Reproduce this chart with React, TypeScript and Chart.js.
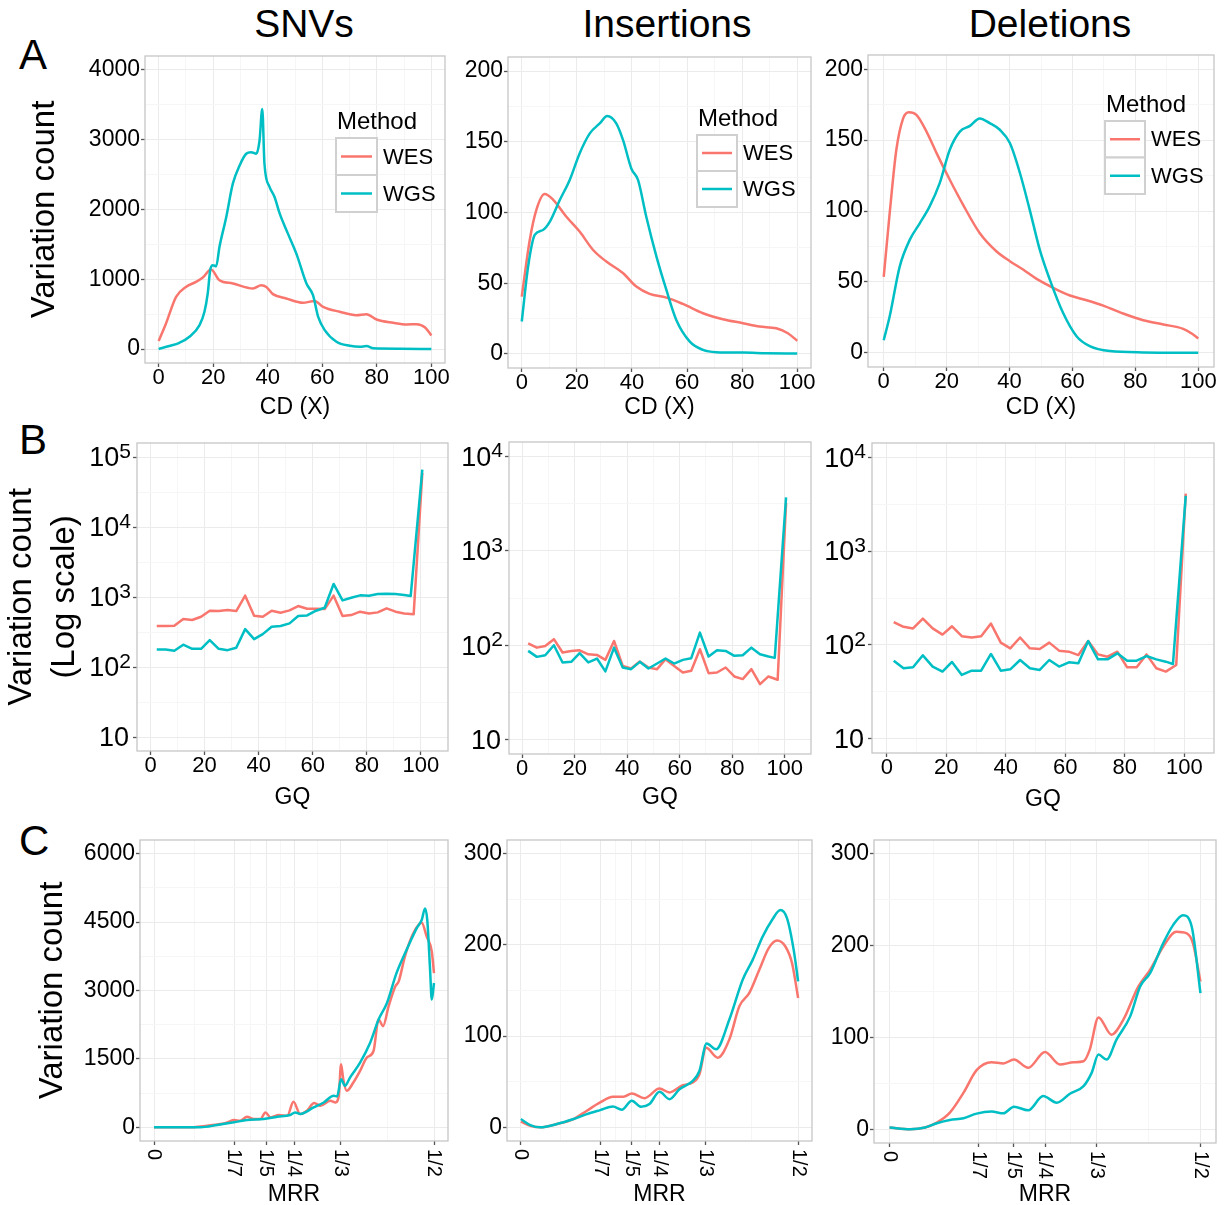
import React, { useEffect, useRef } from 'react';
import { Chart, registerables } from 'chart.js';

Chart.register(...registerables);

const FONT = '"Liberation Sans", Arial, Helvetica, sans-serif';
const WES_COLOR = '#F8766D';
const WGS_COLOR = '#00BFC4';
const MAJOR_GRID = '#ebebeb';
const MINOR_GRID = '#f6f6f6';
const TICK_COLOR = '#555555';
const BORDER_COLOR = '#c6c6c6';

const METHOD_TITLE = 'Method';
const METHODS = ['WES', 'WGS'];
const COLUMN_TITLES = ['SNVs', 'Insertions', 'Deletions'];
const ROW_LETTERS = ['A', 'B', 'C'];

// ---------- Row A: coverage depth (CD) ----------
const snvCdWesX = [0, 2.7, 6.4, 10, 13.7, 16.2, 19.2, 22.3, 27.2, 34.6, 37.6, 39.5, 41.9, 46.8, 52.9, 57.2, 60.3, 66.4, 72.5, 76.2, 79.9, 86, 91, 94.6, 97.7, 100];
const snvCdWesY = [114, 367, 748, 890, 963, 1025, 1140, 987, 940, 868, 915, 890, 787, 725, 663, 690, 605, 534, 486, 500, 424, 377, 353, 357, 310, 195];
const snvCdWgsX = [0, 3.9, 7.6, 11.3, 15, 16.8, 18, 18.9, 19.9, 21.1, 22.3, 24.8, 27.2, 29.7, 32.1, 33.9, 35.8, 37, 38, 38.8, 40.7, 42.5, 44.4, 47.4, 50.5, 54.2, 56.6, 58.5, 60.9, 65.2, 70.1, 73.8, 76.2, 78.7, 88.5, 100];
const snvCdWgsY = [0, 43, 90, 176, 343, 534, 796, 1130, 1201, 1187, 1464, 1893, 2370, 2632, 2799, 2822, 2799, 2989, 3442, 2656, 2322, 2179, 1940, 1654, 1368, 939, 772, 462, 272, 105, 48, 33, 43, 10, 5, 0];

const insCdWesX = [0, 2.9, 5.3, 8.3, 11.4, 16.2, 21, 25.9, 30.7, 36.8, 41.6, 46.4, 52.5, 58.5, 65.8, 73, 80.3, 86.3, 92.4, 96.6, 100];
const insCdWesY = [40.5, 80.6, 101.8, 113, 109, 97, 86.5, 73.5, 65.3, 57, 47.6, 42.4, 39.8, 35.3, 28.7, 24.5, 21.7, 19.3, 18.1, 14.6, 9.2];
const insCdWgsX = [0, 2.3, 4.7, 7.7, 10.2, 13.8, 17.4, 21, 24.7, 28.3, 31, 34.3, 36.8, 39.8, 42.2, 45.2, 48.9, 52.5, 56.1, 61, 65.8, 70.6, 80.3, 88.8, 100];
const insCdWgsY = [22.9, 61.7, 84.1, 87.6, 93.5, 108.8, 123, 141.8, 156, 163, 168.2, 163, 151, 131, 123, 97, 68.8, 45.2, 24, 8.7, 2.8, 1.2, 0.9, 0.5, 0.2];

const delCdWesX = [0, 1.9, 4, 6.2, 8, 10.4, 13.6, 16.8, 21, 25.2, 30.5, 35.8, 40.1, 44.3, 48.6, 53.9, 59.2, 64.5, 69.8, 76.1, 82.5, 88.9, 95.2, 97.9, 100];
const delCdWesY = [53.5, 98.6, 143, 165.5, 169.7, 167.8, 156, 140.8, 122, 104.5, 84.5, 71.6, 64.6, 58.7, 52.1, 45.8, 40.4, 37.1, 33.3, 27.7, 23, 20, 16.9, 13.6, 10.1];
const delCdWgsX = [0, 1.9, 5.1, 8.3, 11.5, 14.6, 17.8, 21, 24.2, 27.4, 30.5, 33.7, 36.9, 40.1, 43.3, 46.4, 49.6, 52.8, 57, 61.3, 65.5, 71.9, 82.5, 100];
const delCdWgsY = [8.9, 25.8, 61, 79.8, 91.5, 103.3, 119.7, 143.2, 156, 160, 165.3, 162, 157.3, 147.9, 126.8, 101, 72.8, 51.6, 28.2, 11.7, 4.7, 1.2, 0.3, 0.1];

// ---------- Row B: genotype quality (GQ), log scale ----------
const gqBins = [2.3, 5.6, 8.8, 12.1, 15.4, 18.7, 21.9, 25.2, 28.5, 31.7, 35, 38.3, 41.5, 44.8, 48.1, 51.4, 54.6, 57.9, 61.2, 64.4, 67.7, 71, 74.2, 77.5, 80.8, 84, 87.3, 90.6, 93.8, 96.2, 97.3, 100.5];
const snvGqWes = [385, 385, 388, 484, 469, 523, 637, 630, 652, 630, 1045, 541, 523, 637, 597, 644, 743, 681, 681, 672, 1045, 535, 552, 617, 583, 603, 689, 617, 583, null, 565, 59000];
const snvGqWgs = [178, 178, 171, 208, 182, 182, 242, 182, 174, 188, 348, 250, 295, 376, 385, 420, 535, 546, 637, 703, 1535, 895, 977, 1056, 1045, 1104, 1117, 1104, 1069, 1033, null, 65900];
const insGqWes = [105, 94.4, 98.4, 116, 83.8, 87.2, 88.5, 80.3, 79.1, 70.1, 111, 60.5, 56.8, 67.3, 58.2, 55.9, 71.3, 60.5, 51.5, 53.7, 90.8, 50.7, 51.5, 58.2, 46.8, 43.9, 55.9, 38.8, 46.8, null, 43.2, 3200];
const insGqWgs = [87.2, 75.4, 78.5, 100, 65.8, 66.8, 82.4, 65.8, 72.4, 52.9, 94.4, 58.2, 55.9, 66.8, 56.8, 64.1, 72.4, 64.1, 70.1, 73, 136, 76, 88.5, 87.2, 77.3, 78.5, 94.4, 80.3, 76, 73.6, null, 3670];
const delGqWes = [175, 156, 150, 191, 150, 129, 158, 124, 120, 124, 169, 106, 92, 120, 92, 90.6, 106, 87, 84.8, 78.1, 110, 79.4, 75, 84.8, 57.8, 57.8, 79.4, 56.5, 52.1, null, 61.2, 4090];
const delGqWgs = [68.1, 56.5, 57.8, 77.6, 58.9, 52.1, 65.9, 48, 53.3, 53.3, 80.2, 53.3, 55.1, 69.2, 56.5, 54.2, 69.2, 58.9, 65.3, 63.8, 110, 70.3, 70.3, 81.5, 68.1, 68.1, 76.2, 70.3, 66.4, 62.8, null, 3860];

// ---------- Row C: minor read ratio (MRR) ----------
const snvMrrWesX = [0, 0.059, 0.095, 0.119, 0.131, 0.143, 0.154, 0.166, 0.178, 0.19, 0.199, 0.208, 0.223, 0.238, 0.249, 0.261, 0.273, 0.286, 0.297, 0.315, 0.324, 0.33, 0.334, 0.338, 0.344, 0.356, 0.368, 0.38, 0.392, 0.401, 0.409, 0.419, 0.431, 0.437, 0.448, 0.463, 0.478, 0.487, 0.496, 0.5];
const snvMrrWesY = [0, 0, 36, 73, 109, 160, 145, 233, 182, 182, 327, 218, 269, 255, 560, 291, 364, 531, 473, 582, 545, 691, 1382, 1055, 800, 982, 1236, 1527, 1673, 2364, 2218, 2655, 3091, 3200, 3745, 4255, 4487, 4182, 3855, 3382];
const snvMrrWgsX = [0, 0.083, 0.113, 0.143, 0.166, 0.196, 0.22, 0.243, 0.252, 0.261, 0.285, 0.303, 0.321, 0.327, 0.334, 0.341, 0.35, 0.368, 0.386, 0.401, 0.416, 0.433, 0.451, 0.469, 0.478, 0.484, 0.488, 0.493, 0.496, 0.5];
const snvMrrWgsY = [0, 0, 51, 109, 160, 182, 233, 269, 327, 291, 436, 545, 691, 676, 1055, 909, 1091, 1418, 1855, 2364, 2727, 3382, 3891, 4364, 4545, 4800, 4545, 3455, 2800, 3164];

const insMrrWesX = [0, 0.017, 0.035, 0.065, 0.095, 0.119, 0.143, 0.166, 0.185, 0.2, 0.223, 0.25, 0.268, 0.292, 0.31, 0.322, 0.334, 0.355, 0.376, 0.394, 0.412, 0.43, 0.447, 0.462, 0.477, 0.489, 0.5];
const insMrrWesY = [6.2, 1.8, 0, 3.6, 9.1, 18.2, 27.3, 33.5, 33.5, 37.1, 32, 42.5, 38.2, 46.2, 49.1, 58.2, 87.3, 76.4, 96.4, 132.7, 147.3, 172.7, 196.4, 204.7, 198.2, 180, 141.8];
const insMrrWgsX = [0, 0.017, 0.035, 0.065, 0.095, 0.119, 0.143, 0.166, 0.182, 0.2, 0.217, 0.232, 0.25, 0.268, 0.286, 0.31, 0.322, 0.335, 0.352, 0.376, 0.4, 0.418, 0.436, 0.453, 0.468, 0.48, 0.492, 0.5];
const insMrrWgsY = [9.1, 2.5, 0, 3.6, 9.1, 14.5, 18.9, 22.9, 19.3, 29.1, 22.5, 25.5, 38.9, 30.9, 41.8, 50.9, 61.8, 92, 85.5, 118.2, 161.8, 183.6, 209.1, 227.3, 238.2, 229.1, 194.5, 160];

const delMrrWesX = [0, 0.033, 0.057, 0.076, 0.097, 0.119, 0.14, 0.164, 0.183, 0.2, 0.223, 0.25, 0.274, 0.296, 0.312, 0.322, 0.336, 0.357, 0.376, 0.4, 0.419, 0.44, 0.461, 0.478, 0.488, 0.5];
const delMrrWesY = [1.8, 0, 1.8, 7.2, 18.1, 39.8, 64.3, 73, 71.6, 75.9, 66.9, 84.2, 70.5, 73, 74.1, 86.7, 121.8, 103, 119.3, 155.4, 173.5, 198.8, 215, 213.2, 202.4, 160.8];
const delMrrWgsX = [0, 0.033, 0.057, 0.076, 0.097, 0.119, 0.14, 0.164, 0.183, 0.2, 0.223, 0.247, 0.269, 0.29, 0.312, 0.325, 0.336, 0.349, 0.365, 0.387, 0.403, 0.419, 0.44, 0.456, 0.472, 0.486, 0.5];
const delMrrWgsY = [1.8, 0, 1.8, 6.5, 10.1, 11.9, 17, 19.2, 17.3, 24.6, 20.6, 36.1, 28.9, 38.7, 47, 61.4, 81.3, 75.9, 97.6, 122.9, 155.4, 169.9, 202.4, 222.3, 233.1, 220.5, 148.2];

// ---------- Ticks ----------
const pctTicks = [0, 20, 40, 60, 80, 100];
const pctTickLabels = ['0', '20', '40', '60', '80', '100'];
const snvCdTicks = [0, 1000, 2000, 3000, 4000];
const snvCdTickLabels = ['0', '1000', '2000', '3000', '4000'];
const indelCdTicks = [0, 50, 100, 150, 200];
const indelCdTickLabels = ['0', '50', '100', '150', '200'];
const snvLogTicks = [10, 100, 1000, 10000, 100000];
const snvLogTickBases = ['10', '10', '10', '10', '10'];
const snvLogTickExponents = ['', '2', '3', '4', '5'];
const indelLogTicks = [10, 100, 1000, 10000];
const indelLogTickBases = ['10', '10', '10', '10'];
const indelLogTickExponents = ['', '2', '3', '4'];
const mrrTicks = [0, 1 / 7, 1 / 5, 1 / 4, 1 / 3, 1 / 2];
const mrrTickLabels = ['0', '1/7', '1/5', '1/4', '1/3', '1/2'];
const snvMrrTicks = [0, 1500, 3000, 4500, 6000];
const snvMrrTickLabels = ['0', '1500', '3000', '4500', '6000'];
const indelMrrTicks = [0, 100, 200, 300];
const indelMrrTickLabels = ['0', '100', '200', '300'];

// minor grid breaks: midpoints between major breaks (linear space, or log space for log axes)
const mids = (a: number[]) => a.slice(1).map((v, i) => (v + a[i]) / 2);
const logMids = (a: number[]) => a.slice(1).map((v, i) => Math.sqrt(v * a[i]));

// ---------- Layout (page pixels) ----------
type Axis = {
  type: string; min: number; max: number; major: number[]; labels: string[]; minor: number[];
  rotated?: boolean; exponents?: string[];
};
type Series = { label: string; color: string; x: number[]; y: (number | null)[] };
type Legend = { titleDx: number; titleDy: number; keyDx: number; keyDy: number; keyW: number; keyH: number };
type PanelSpec = {
  key: string;
  plot: number[];
  canvas: number[];
  x: Axis;
  y: Axis;
  xTitle: string;
  xTitleY: number;
  yTitle?: string | string[];
  yTitleX?: number;
  yTitleLH?: number;
  smooth: boolean;
  series: Series[];
  legend?: Legend;
};

const mk = (wx: number[], wy: (number | null)[], gx: number[], gy: (number | null)[]): Series[] => [
  { label: METHODS[0], color: WES_COLOR, x: wx, y: wy },
  { label: METHODS[1], color: WGS_COLOR, x: gx, y: gy },
];

const cdAxis: Axis = { type: 'linear', min: -5, max: 105, major: pctTicks, labels: pctTickLabels, minor: mids(pctTicks) };
const gqAxis: Axis = { type: 'linear', min: -5, max: 110, major: pctTicks, labels: pctTickLabels, minor: mids(pctTicks) };
const mrrAxis: Axis = { type: 'linear', min: -0.025, max: 0.525, major: mrrTicks, labels: mrrTickLabels, minor: mids(mrrTicks), rotated: true };
const snvLogAxis: Axis = {
  type: 'logarithmic', min: Math.pow(10, 0.8), max: Math.pow(10, 5.2), major: snvLogTicks,
  labels: snvLogTickBases, exponents: snvLogTickExponents, minor: logMids(snvLogTicks),
};
const indelLogAxis: Axis = {
  type: 'logarithmic', min: Math.pow(10, 0.85), max: Math.pow(10, 4.15), major: indelLogTicks,
  labels: indelLogTickBases, exponents: indelLogTickExponents, minor: logMids(indelLogTicks),
};

const PANELS: PanelSpec[] = [
  {
    key: 'A1', plot: [145, 56, 445, 363], canvas: [0, 40, 460, 430],
    x: cdAxis,
    y: { type: 'linear', min: -200, max: 4200, major: snvCdTicks, labels: snvCdTickLabels, minor: mids(snvCdTicks) },
    xTitle: 'CD (X)', xTitleY: 408, yTitle: 'Variation count', yTitleX: 45, yTitleLH: 1.2, smooth: true,
    series: mk(snvCdWesX, snvCdWesY, snvCdWgsX, snvCdWgsY),
    legend: { titleDx: 192, titleDy: 66, keyDx: 191, keyDy: 82, keyW: 41, keyH: 37 },
  },
  {
    key: 'A2', plot: [508, 57, 811, 368], canvas: [455, 40, 825, 430],
    x: cdAxis,
    y: { type: 'linear', min: -10, max: 210, major: indelCdTicks, labels: indelCdTickLabels, minor: mids(indelCdTicks) },
    xTitle: 'CD (X)', xTitleY: 408, smooth: true,
    series: mk(insCdWesX, insCdWesY, insCdWgsX, insCdWgsY),
    legend: { titleDx: 190, titleDy: 62, keyDx: 189, keyDy: 78, keyW: 40, keyH: 36 },
  },
  {
    key: 'A3', plot: [868, 55, 1214, 367], canvas: [815, 40, 1228, 430],
    x: cdAxis,
    y: { type: 'linear', min: -10, max: 210, major: indelCdTicks, labels: indelCdTickLabels, minor: mids(indelCdTicks) },
    xTitle: 'CD (X)', xTitleY: 408, smooth: true,
    series: mk(delCdWesX, delCdWesY, delCdWgsX, delCdWgsY),
    legend: { titleDx: 238, titleDy: 50, keyDx: 237, keyDy: 66, keyW: 40, keyH: 36.5 },
  },
  {
    key: 'B1', plot: [137, 443, 448, 751], canvas: [0, 425, 460, 820],
    x: gqAxis, y: snvLogAxis,
    xTitle: 'GQ', xTitleY: 798, yTitle: ['Variation count', '(Log scale)'], yTitleX: 22, yTitleLH: 1.3, smooth: false,
    series: mk(gqBins, snvGqWes, gqBins, snvGqWgs),
  },
  {
    key: 'B2', plot: [509, 442, 811, 754], canvas: [455, 425, 825, 820],
    x: gqAxis, y: indelLogAxis,
    xTitle: 'GQ', xTitleY: 798, smooth: false,
    series: mk(gqBins, insGqWes, gqBins, insGqWgs),
  },
  {
    key: 'B3', plot: [872, 443, 1214, 753], canvas: [815, 425, 1228, 820],
    x: gqAxis, y: indelLogAxis,
    xTitle: 'GQ', xTitleY: 800, smooth: false,
    series: mk(gqBins, delGqWes, gqBins, delGqWgs),
  },
  {
    key: 'C1', plot: [140, 840, 448, 1141], canvas: [0, 820, 460, 1212],
    x: mrrAxis,
    y: { type: 'linear', min: -300, max: 6300, major: snvMrrTicks, labels: snvMrrTickLabels, minor: mids(snvMrrTicks) },
    xTitle: 'MRR', xTitleY: 1195, yTitle: 'Variation count', yTitleX: 53, yTitleLH: 1.2, smooth: true,
    series: mk(snvMrrWesX, snvMrrWesY, snvMrrWgsX, snvMrrWgsY),
  },
  {
    key: 'C2', plot: [507, 840, 812, 1141], canvas: [455, 820, 825, 1212],
    x: mrrAxis,
    y: { type: 'linear', min: -15, max: 315, major: indelMrrTicks, labels: indelMrrTickLabels, minor: mids(indelMrrTicks) },
    xTitle: 'MRR', xTitleY: 1195, smooth: true,
    series: mk(insMrrWesX, insMrrWesY, insMrrWgsX, insMrrWgsY),
  },
  {
    key: 'C3', plot: [874, 840, 1216, 1143], canvas: [815, 820, 1229, 1212],
    x: mrrAxis,
    y: { type: 'linear', min: -15, max: 315, major: indelMrrTicks, labels: indelMrrTickLabels, minor: mids(indelMrrTicks) },
    xTitle: 'MRR', xTitleY: 1195, smooth: true,
    series: mk(delMrrWesX, delMrrWesY, delMrrWgsX, delMrrWgsY),
  },
];

const COLUMN_CENTERS = [304, 667, 1050];
const LETTER_BASELINES = [70, 455, 856];

// ---------- helpers ----------
const findIdx = (arr: number[], v: number) =>
  arr.findIndex((m) => Math.abs(m - v) <= Math.abs(m) * 1e-6 + 1e-9);

function buildConfig(s: PanelSpec): any {
  const [pl, pt, pr, pb] = s.plot;
  const [cl, ct, cr, cb] = s.canvas;
  const yW = pl - cl;
  const xH = cb - pb;
  const X_TITLE = 23;
  const xTitlePad = cb - s.xTitleY - X_TITLE / 2;
  const Y_TITLE = 33;
  const yLH = s.yTitleLH || 1.2;
  const yTitlePad = s.yTitle ? (s.yTitleX as number) - cl - (Y_TITLE * yLH) / 2 : 0;

  const axisCommon = (ax: Axis) => {
    const all = [...ax.major, ...ax.minor].sort((a, b) => a - b);
    return {
      type: ax.type,
      min: ax.min,
      max: ax.max,
      bounds: 'data',
      afterBuildTicks: (sc: any) => {
        sc.ticks = all.map((v) => ({ value: v }));
      },
      grid: {
        color: (c: any) => (c.tick && findIdx(ax.major, c.tick.value) >= 0 ? MAJOR_GRID : MINOR_GRID),
        lineWidth: 1,
        drawTicks: true,
        tickLength: 4,
        tickWidth: 1.3,
        tickColor: (c: any) => (c.tick && findIdx(ax.major, c.tick.value) >= 0 ? TICK_COLOR : 'rgba(0,0,0,0)'),
      },
      border: { display: false },
    };
  };
  const labelCb = (ax: Axis) => (v: any) => {
    const i = findIdx(ax.major, Number(v));
    return i >= 0 ? ax.labels[i] : '';
  };

  const datasets = s.series.map((ser, si) => ({
    label: ser.label,
    data: ser.x.map((xv, i) => ({ x: xv, y: ser.y[i] })),
    borderColor: ser.color,
    backgroundColor: ser.color,
    borderWidth: 2.5,
    pointRadius: 0,
    pointHoverRadius: 0,
    fill: false,
    spanGaps: true,
    tension: s.smooth ? 0.4 : 0,
    cubicInterpolationMode: s.smooth ? 'monotone' : 'default',
    borderJoinStyle: 'round',
    order: si === 1 ? 0 : 1,
  }));

  const decor = {
    id: 'panelDecor' + s.key,
    afterDraw(chart: any) {
      const { ctx, chartArea: a } = chart;
      ctx.save();
      // panel border
      ctx.strokeStyle = BORDER_COLOR;
      ctx.lineWidth = 1.3;
      ctx.strokeRect(a.left, a.top, a.right - a.left, a.bottom - a.top);
      // rotated MRR tick labels
      if (s.x.rotated) {
        ctx.fillStyle = '#000';
        ctx.font = `20px ${FONT}`;
        s.x.major.forEach((v, i) => {
          const px = chart.scales.x.getPixelForValue(v);
          ctx.save();
          ctx.translate(px, a.bottom + 8);
          ctx.rotate(Math.PI / 2);
          ctx.textAlign = 'left';
          ctx.textBaseline = 'middle';
          ctx.fillText(s.x.labels[i], 0, 0);
          ctx.restore();
        });
      }
      // log-axis labels: base 10 with superscript exponent
      if (s.y.exponents) {
        const sc = chart.scales.y;
        const xr = a.left - 6;
        ctx.fillStyle = '#000';
        s.y.major.forEach((v, i) => {
          const py = sc.getPixelForValue(v);
          const exp = (s.y.exponents as string[])[i];
          ctx.font = `21px ${FONT}`;
          const wSup = exp ? ctx.measureText(exp).width : 0;
          ctx.font = `27px ${FONT}`;
          const wBase = ctx.measureText(s.y.labels[i]).width;
          ctx.textAlign = 'left';
          ctx.textBaseline = 'middle';
          ctx.fillText(s.y.labels[i], xr - wSup - wBase - (exp ? 0 : 2), py + 2);
          if (exp) {
            ctx.font = `21px ${FONT}`;
            ctx.textBaseline = 'alphabetic';
            ctx.fillText(exp, xr - wSup, py + 1);
          }
        });
      }
      // legend
      if (s.legend) {
        const L = s.legend;
        ctx.fillStyle = '#000';
        ctx.font = `24px ${FONT}`;
        ctx.textAlign = 'left';
        ctx.textBaseline = 'middle';
        ctx.fillText(METHOD_TITLE, a.left + L.titleDx, a.top + L.titleDy);
        s.series.forEach((ser, i) => {
          const kx = a.left + L.keyDx;
          const ky = a.top + L.keyDy + i * L.keyH;
          ctx.fillStyle = '#ffffff';
          ctx.fillRect(kx, ky, L.keyW, L.keyH);
          ctx.strokeStyle = '#d0d0d0';
          ctx.lineWidth = 2;
          ctx.strokeRect(kx, ky, L.keyW, L.keyH);
          ctx.strokeStyle = ser.color;
          ctx.lineWidth = 2.5;
          ctx.beginPath();
          ctx.moveTo(kx + 5, ky + L.keyH / 2);
          ctx.lineTo(kx + L.keyW - 5, ky + L.keyH / 2);
          ctx.stroke();
          ctx.fillStyle = '#000';
          ctx.font = `22px ${FONT}`;
          ctx.fillText(ser.label, kx + L.keyW + 6, ky + L.keyH / 2 + 1);
        });
      }
      ctx.restore();
    },
  };

  return {
    type: 'line',
    data: { datasets },
    options: {
      animation: false,
      responsive: false,
      maintainAspectRatio: false,
      devicePixelRatio: 1,
      events: [],
      layout: { padding: { left: 0, top: pt - ct, right: cr - pr, bottom: 0 } },
      plugins: { legend: { display: false }, tooltip: { enabled: false }, title: { display: false } },
      scales: {
        x: {
          ...axisCommon(s.x),
          position: 'bottom',
          afterFit: (sc: any) => {
            sc.height = xH;
            sc.paddingLeft = 0;
            sc.paddingRight = 0;
            sc.paddingTop = 0;
            sc.paddingBottom = 0;
          },
          ticks: {
            display: !s.x.rotated,
            autoSkip: false,
            maxRotation: 0,
            minRotation: 0,
            padding: 0,
            color: '#000',
            font: { family: FONT, size: 22, lineHeight: 1 },
            callback: labelCb(s.x),
          },
          title: {
            display: true,
            text: s.xTitle,
            color: '#000',
            font: { family: FONT, size: X_TITLE, lineHeight: 1 },
            padding: { top: 0, bottom: xTitlePad },
          },
        },
        y: {
          ...axisCommon(s.y),
          position: 'left',
          afterFit: (sc: any) => {
            sc.width = yW;
            sc.paddingLeft = 0;
            sc.paddingRight = 0;
            sc.paddingTop = 0;
            sc.paddingBottom = 0;
          },
          ticks: {
            display: !s.y.exponents,
            autoSkip: false,
            padding: 1,
            color: '#000',
            font: { family: FONT, size: 23, lineHeight: 1 },
            callback: labelCb(s.y),
          },
          title: s.yTitle
            ? {
                display: true,
                text: s.yTitle,
                color: '#000',
                font: { family: FONT, size: Y_TITLE, lineHeight: yLH },
                padding: { top: yTitlePad, bottom: 0 },
              }
            : { display: false },
        },
      },
    },
    plugins: [decor],
  };
}

function Panel({ spec }: { spec: PanelSpec }) {
  const ref = useRef<HTMLCanvasElement | null>(null);
  useEffect(() => {
    const canvas = ref.current;
    if (!canvas) return;
    const chart = new Chart(canvas, buildConfig(spec));
    return () => chart.destroy();
  }, [spec]);
  const [cl, ct, cr, cb] = spec.canvas;
  const w = cr - cl;
  const h = cb - ct;
  return (
    <canvas
      ref={ref}
      width={w}
      height={h}
      style={{ position: 'absolute', left: cl, top: ct, width: w, height: h }}
    />
  );
}

export default function App() {
  return (
    <div
      style={{
        position: 'absolute',
        left: 0,
        top: 0,
        width: 1230,
        height: 1205,
        overflow: 'hidden',
        background: '#ffffff',
        fontFamily: FONT,
      }}
    >
      {COLUMN_TITLES.map((t, i) => (
        <div
          key={t}
          style={{
            position: 'absolute',
            left: COLUMN_CENTERS[i] - 200,
            width: 400,
            top: 37 - 33,
            fontSize: 39,
            lineHeight: '39px',
            textAlign: 'center',
            color: '#000',
          }}
        >
          {t}
        </div>
      ))}
      {ROW_LETTERS.map((t, i) => (
        <div
          key={t}
          style={{
            position: 'absolute',
            left: 19,
            top: LETTER_BASELINES[i] - 35.6,
            fontSize: 42,
            lineHeight: '42px',
            color: '#000',
          }}
        >
          {t}
        </div>
      ))}
      {PANELS.map((p) => (
        <Panel key={p.key} spec={p} />
      ))}
    </div>
  );
}
